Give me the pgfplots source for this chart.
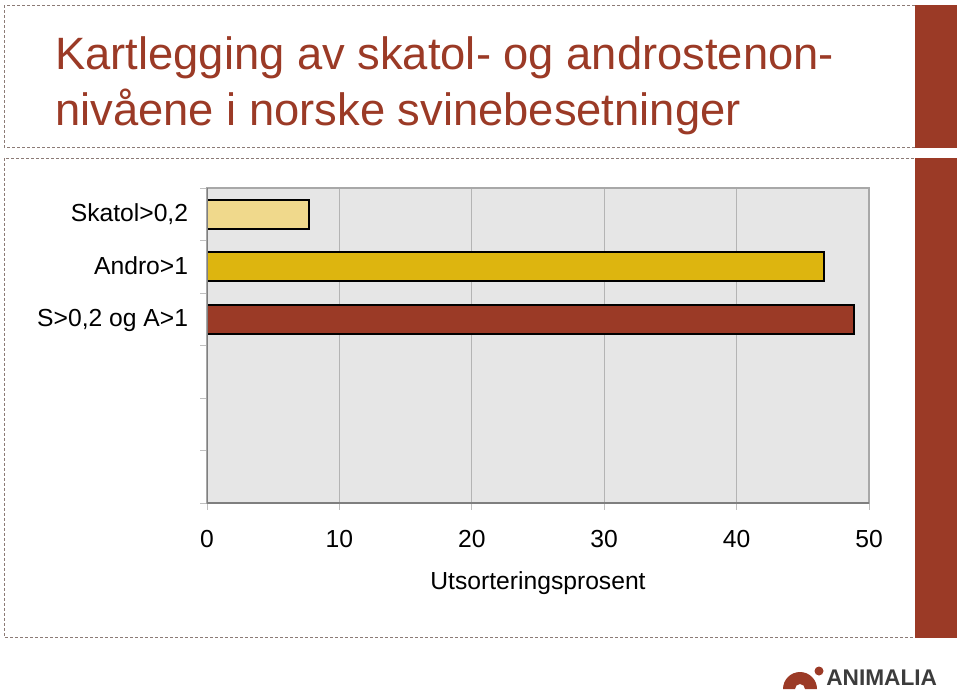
\documentclass[border=0pt]{standalone}
\usepackage{fontspec}
\setmainfont{Liberation Sans}
\usepackage{pgfplots}
\pgfplotsset{compat=1.18}
\definecolor{titlered}{HTML}{9B3A26}
\definecolor{barA}{HTML}{F0D98C}
\definecolor{barB}{HTML}{DDB50F}
\definecolor{barC}{HTML}{9B3A26}
\definecolor{plotbg}{HTML}{E6E6E6}
\definecolor{gridgray}{HTML}{B4B4B4}
\definecolor{framegray}{HTML}{A8A8A8}
\definecolor{darkframe}{HTML}{7F7F7F}
\definecolor{tickgray}{HTML}{C0C0C0}
\definecolor{dashcol}{HTML}{8C7B76}
\definecolor{logogray}{HTML}{3C3C3C}
\begin{document}
\begin{tikzpicture}
\begin{scope}[x=0.75pt,y=-0.75pt]
\useasboundingbox (0,0) rectangle (960,690);
\draw[dashcol, line width=0.75pt, dash pattern=on 2.25pt off 1.5pt] (4,5) rectangle (915,147);
\draw[dashcol, line width=0.75pt, dash pattern=on 2.25pt off 1.5pt] (4,158) rectangle (915,637);
\fill[titlered] (915,5) rectangle (957,148);
\fill[titlered] (915,158) rectangle (957,638);
\node[anchor=base west, inner sep=0pt, text=titlered, font=\fontsize{34}{40}\selectfont] at (55,69) {Kartlegging av skatol- og androstenon-};
\node[anchor=base west, inner sep=0pt, text=titlered, font=\fontsize{34}{40}\selectfont] at (55,125) {nivåene i norske svinebesetninger};
% logo
\fill[titlered] (783,689) arc[start angle=180, end angle=360, radius=17] -- (805,689) arc[start angle=0, end angle=-180, radius=5] -- cycle;
\fill[titlered] (819,671) circle[radius=4.5];
\node[anchor=base west, inner sep=0pt, text=logogray, font=\bfseries\fontsize{17}{20}\selectfont] at (826,685) {ANIMALIA};
\end{scope}
\begin{axis}[
  at={(155.25pt,-377.25pt)}, anchor=south west,
  scale only axis, width=496.5pt, height=236.25pt,
  xmin=0, xmax=50, ymin=0, ymax=6, y dir=reverse,
  xtick={0,10,...,50},
  ytick={0.5,1.5,2.5},
  yticklabels={{Skatol>0,2},{Andro>1},{S>0,2 og A>1}},
  minor ytick={0,1,...,6},
  major y tick style={draw=none},
  xtick pos=bottom, ytick pos=left,
  tick align=outside,
  major tick length=5pt, minor tick length=5pt,
  tick style={color=tickgray, line width=0.75pt},
  xmajorgrids,
  grid style={gridgray, line width=0.75pt},
  axis background/.style={fill=plotbg},
  axis line style={framegray, line width=1.1pt},
  /pgf/number format/assume math mode=true,
  tick label style={font=\fontsize{18.5}{20}\selectfont, inner sep=0pt},
  xticklabel style={anchor=base, yshift=-28.5pt},
  yticklabel style={anchor=base east, xshift=-9pt, yshift=-5.6pt},
  xlabel={Utsorteringsprosent},
  xlabel style={font=\fontsize{18.5}{20}\selectfont, inner sep=0pt, at={(axis description cs:0.5,0)}, anchor=base, yshift=-65pt},
]
\addplot[xbar, bar width=0.55, bar shift=0pt, fill=barA, draw=black, line width=1.5pt] coordinates {(7.7,0.5)};
\addplot[xbar, bar width=0.55, bar shift=0pt, fill=barB, draw=black, line width=1.5pt] coordinates {(46.6,1.5)};
\addplot[xbar, bar width=0.55, bar shift=0pt, fill=barC, draw=black, line width=1.5pt] coordinates {(48.9,2.5)};
\draw[darkframe, line width=1.5pt] (axis description cs:0,1) -- (axis description cs:0,0) -- (axis description cs:1,0);
\end{axis}
\end{tikzpicture}
\end{document}
